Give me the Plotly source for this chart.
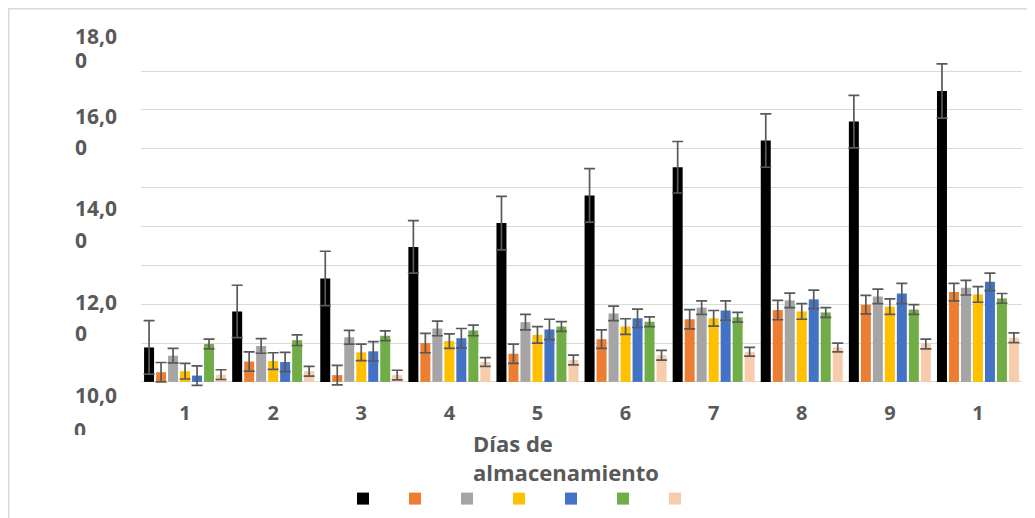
import plotly.graph_objects as go

# ---- data ----
dias = ["1", "2", "3", "4", "5", "6", "7", "8", "9", "10"]
dias_labels = ["1", "2", "3", "4", "5", "6", "7", "8", "9", "1"]

s_negro = [11.51, 12.25, 12.93, 13.58, 14.07, 14.64, 15.22, 15.77, 16.16, 16.79]
e_negro = [0.55, 0.54, 0.56, 0.54, 0.55, 0.55, 0.53, 0.55, 0.54, 0.56]
s_naranja = [11.00, 11.22, 10.94, 11.60, 11.38, 11.68, 12.09, 12.28, 12.39, 12.65]
e_naranja = [0.20, 0.20, 0.20, 0.20, 0.20, 0.19, 0.20, 0.20, 0.19, 0.18]
s_gris = [11.34, 11.54, 11.72, 11.90, 12.03, 12.21, 12.33, 12.48, 12.56, 12.74]
e_gris = [0.15, 0.15, 0.14, 0.15, 0.16, 0.15, 0.14, 0.15, 0.15, 0.15]
s_amarillo = [11.02, 11.23, 11.41, 11.64, 11.77, 11.94, 12.11, 12.25, 12.35, 12.60]
e_amarillo = [0.16, 0.17, 0.17, 0.15, 0.17, 0.16, 0.16, 0.16, 0.16, 0.16]
s_azul = [10.93, 11.21, 11.43, 11.70, 11.88, 12.11, 12.27, 12.50, 12.62, 12.86]
e_azul = [0.20, 0.20, 0.20, 0.20, 0.21, 0.19, 0.20, 0.19, 0.21, 0.18]
s_verde = [11.58, 11.66, 11.75, 11.86, 11.94, 12.04, 12.13, 12.23, 12.29, 12.52]
e_verde = [0.10, 0.11, 0.10, 0.11, 0.10, 0.10, 0.10, 0.10, 0.10, 0.10]
s_durazno = [10.95, 11.02, 10.94, 11.21, 11.25, 11.35, 11.42, 11.51, 11.58, 11.71]
e_durazno = [0.10, 0.10, 0.10, 0.09, 0.10, 0.10, 0.09, 0.09, 0.10, 0.10]

y_tick_labels = ["18,00", "16,00", "14,00", "12,00", "10,00"]
x_title = "Días de<br>almacenamiento"

BASE = 10.8

series = [
    (s_negro, e_negro, "#000000"),
    (s_naranja, e_naranja, "#ED7D31"),
    (s_gris, e_gris, "#A5A5A5"),
    (s_amarillo, e_amarillo, "#FFC000"),
    (s_azul, e_azul, "#4472C4"),
    (s_verde, e_verde, "#70AD47"),
    (s_durazno, e_durazno, "#F8CBAD"),
]

TXT = "#595959"
FONT = "Open Sans"

fig = go.Figure()
for vals, errs, col in series:
    fig.add_trace(go.Bar(
        x=dias,
        y=[v - BASE for v in vals],
        base=BASE,
        marker=dict(color=col, line=dict(width=0)),
        error_y=dict(type="data", array=errs, visible=True,
                     color="#595959", thickness=1.7, width=5.5),
        name="",
        showlegend=True,
    ))

# page geometry (the page body adds an 8px offset around the figure)
OFF = 8
W, H = 1019, 510
L, R, T, B = 141, 1022, 32, 423      # plot area in page pixels
def py(p):
    return (B - p) / (B - T)
def px(p):
    return (p - L) / (R - L)

annotations = []
row1 = [36, 116, 209, 303, 397]
row2 = [60, 148, 241, 335]
for i, lab in enumerate(y_tick_labels):
    annotations.append(dict(
        text=lab[:-1], xref="paper", yref="paper", x=px(73), y=py(row1[i]),
        xanchor="left", yanchor="middle", showarrow=False,
        font=dict(family=FONT, size=21, color=TXT, weight="bold")))
    if i < len(row2):
        annotations.append(dict(
            text=lab[-1], xref="paper", yref="paper", x=px(73), y=py(row2[i]),
            xanchor="left", yanchor="middle", showarrow=False,
            font=dict(family=FONT, size=21, color=TXT, weight="bold")))
    else:
        annotations.append(dict(
            text=lab[-1], xref="paper", yref="paper", x=px(73), y=py(417),
            xanchor="left", yanchor="top", valign="top", height=19,
            showarrow=False, borderpad=0,
            font=dict(family=FONT, size=21, color=TXT, weight="bold")))

annotations.append(dict(
    text=x_title, xref="paper", yref="paper", x=px(471), y=py(460),
    xanchor="left", yanchor="middle", align="left", showarrow=False,
    font=dict(family=FONT, size=22, color=TXT, weight="bold")))

shapes = [dict(type="rect", xref="paper", yref="paper",
               x0=px(8.7), x1=px(1033), y0=py(560), y1=py(8.7),
               line=dict(color="#D9D9D9", width=1.5), layer="below")]

fig.update_layout(
    template="none",
    width=W, height=H,
    margin=dict(l=L - OFF, r=W - (R - OFF), t=T - OFF, b=H - (B - OFF), pad=0),
    paper_bgcolor="white", plot_bgcolor="white",
    barmode="group", bargap=0.047, bargroupgap=0.167,
    showlegend=True,
    legend=dict(orientation="h", x=px(343), y=py(501), xanchor="left",
                yanchor="middle", entrywidth=7, entrywidthmode="pixels",
                font=dict(family=FONT, size=12, color=TXT),
                itemclick=False, traceorder="normal",
                bgcolor="rgba(0,0,0,0)"),
    xaxis=dict(
        type="category", tickvals=dias, ticktext=dias_labels,
        ticklabelposition="inside", ticklabelstandoff=-6, ticks="",
        showgrid=False, gridwidth=0, showline=False, zeroline=False,
        showdividers=False,
        tickfont=dict(family=FONT, size=20, color=TXT, weight="bold"),
    ),
    yaxis=dict(
        range=[9.995, 18.005], tick0=10, dtick=0.8,
        showticklabels=False, ticks="", showgrid=True,
        gridcolor="#D9D9D9", gridwidth=1.3, zeroline=False, showline=False,
    ),
    annotations=annotations,
    shapes=shapes,
)

fig.write_html("out.html")
